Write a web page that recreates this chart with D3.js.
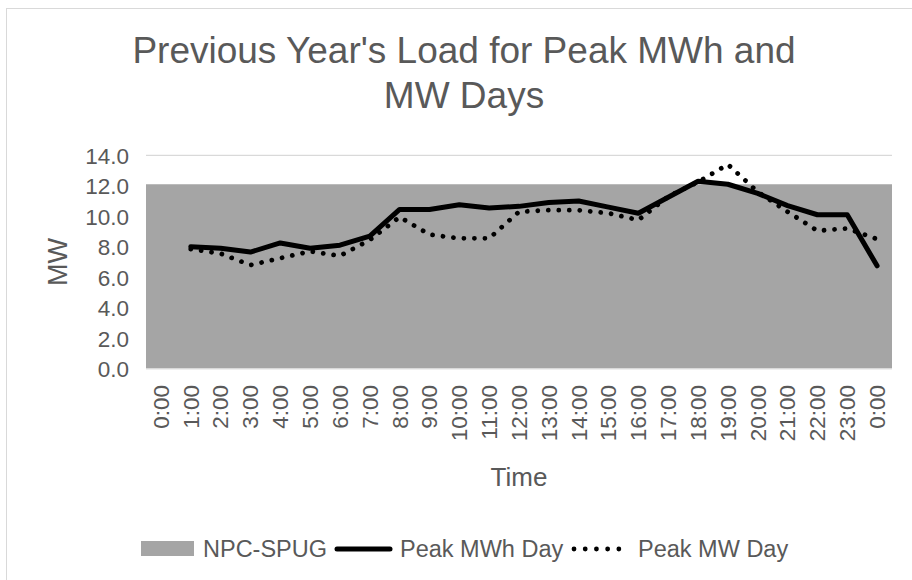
<!DOCTYPE html>
<html><head><meta charset="utf-8">
<script src="https://cdn.jsdelivr.net/npm/d3@7"></script>
<style>
body{margin:0;background:#fff}
text{font-family:"Liberation Sans",Arial,sans-serif;fill:#595959}
</style>
</head><body>
<svg id="c" width="912" height="580"></svg>
<script>
const categories = ["0:00","1:00","2:00","3:00","4:00","5:00","6:00","7:00","8:00","9:00","10:00","11:00","12:00","13:00","14:00","15:00","16:00","17:00","18:00","19:00","20:00","21:00","22:00","23:00","0:00"];
const npcSpug = [12.1,12.1,12.1,12.1,12.1,12.1,12.1,12.1,12.1,12.1,12.1,12.1,12.1,12.1,12.1,12.1,12.1,12.1,12.1,12.1,12.1,12.1,12.1,12.1,12.1];
const peakMWhDay = [null,8.0,7.9,7.65,8.25,7.9,8.1,8.7,10.45,10.45,10.75,10.55,10.65,10.9,11.0,10.6,10.2,11.25,12.3,12.1,11.5,10.7,10.1,10.1,6.75];
const peakMWDay = [null,7.85,7.55,6.8,7.25,7.7,7.4,8.45,9.95,8.8,8.55,8.55,10.3,10.4,10.4,10.2,9.75,11.3,12.25,13.4,11.6,10.3,9.05,9.2,8.5];
const yTicks = [0,2,4,6,8,10,12,14];
const seriesNames = ["NPC-SPUG","Peak MWh Day","Peak MW Day"];
const titleLines = ["Previous Year's Load for Peak MWh and","MW Days"];

const svg = d3.select("#c");
const W = 912, H = 580;
const m = {left:146, right:892, top:155.3, bottom:368.7};

// chart border
svg.append("rect").attr("x",6.5).attr("y",8.5).attr("width",W).attr("height",H)
  .attr("fill","none").attr("stroke","#d9d9d9").attr("stroke-width",1);

const idx = categories.map((d,i)=>i);
const x = d3.scaleBand().domain(idx).range([m.left,m.right]).padding(0);
const xa = d3.scalePoint().domain(idx).range([m.left,m.right]);
const y = d3.scaleLinear().domain([0,14]).range([m.bottom,m.top]);
const cx = i => x(i) + x.bandwidth()/2;

// gridlines
svg.append("g").selectAll("line").data(yTicks).join("line")
  .attr("x1",m.left).attr("x2",m.right)
  .attr("y1",d=>y(d)).attr("y2",d=>y(d))
  .attr("stroke","#d9d9d9").attr("stroke-width",1.3);

// area
svg.append("path").datum(npcSpug)
  .attr("fill","#a5a5a5")
  .attr("d", d3.area().x((d,i)=>xa(i)).y0(y(0)).y1(d=>y(d)));

// axis line at 0
svg.append("line").attr("x1",m.left).attr("x2",m.right).attr("y1",y(0)).attr("y2",y(0))
  .attr("stroke","#d9d9d9").attr("stroke-width",1.3);

// lines
const line = d3.line().defined(d=>d!=null).x((d,i)=>cx(i)).y(d=>y(d));
svg.append("path").datum(peakMWhDay).attr("fill","none").attr("stroke","#000")
  .attr("stroke-width",5).attr("stroke-linejoin","round").attr("stroke-linecap","round")
  .attr("d",line);
svg.append("path").datum(peakMWDay).attr("fill","none").attr("stroke","#000")
  .attr("stroke-width",4.8).attr("stroke-linecap","round").attr("stroke-dasharray","0.01 10.5")
  .attr("d",line);

// y axis labels
const yAxis = d3.axisLeft(y).tickValues(yTicks).tickFormat(d3.format(".1f")).tickSize(0).tickPadding(0);
const gy = svg.append("g").attr("transform",`translate(${129},0)`).call(yAxis);
gy.select(".domain").remove();
gy.selectAll("text").style("font-size","22.5px").attr("fill","#595959").attr("dy","0.35em")
  .style("font-family","'Liberation Sans',Arial,sans-serif");

// x axis labels
const xAxis = d3.axisBottom(x).tickFormat(i=>categories[i]).tickSize(0).tickPadding(0);
const gx = svg.append("g").attr("transform",`translate(0,${385})`).call(xAxis);
gx.select(".domain").remove();
gx.selectAll("text").style("font-size","22.5px").attr("fill","#595959")
  .style("font-family","'Liberation Sans',Arial,sans-serif")
  .attr("text-anchor","end").attr("transform","rotate(-90)")
  .attr("x",0).attr("y",0).attr("dy","0.35em");

// axis titles
svg.append("text").attr("x",(m.left+m.right)/2).attr("y",486).attr("text-anchor","middle")
  .style("font-size","26px").text("Time");
svg.append("text").attr("transform",`translate(67,262) rotate(-90)`).attr("text-anchor","middle")
  .style("font-size","27px").text("MW");

// title
svg.append("g").selectAll("text").data(titleLines).join("text")
  .attr("x",464).attr("y",(d,i)=>63+i*45).attr("text-anchor","middle")
  .style("font-size","37px").text(d=>d);

// legend
const lg = svg.append("g");
lg.append("rect").attr("x",141).attr("y",541).attr("width",53).attr("height",15).attr("fill","#a5a5a5");
lg.append("text").attr("x",203).attr("y",557).style("font-size","23.5px").text(seriesNames[0]);
lg.append("line").attr("x1",337).attr("x2",390).attr("y1",549).attr("y2",549)
  .attr("stroke","#000").attr("stroke-width",5).attr("stroke-linecap","round");
lg.append("text").attr("x",400).attr("y",557).style("font-size","23.5px").text(seriesNames[1]);
lg.append("line").attr("x1",574).attr("x2",619).attr("y1",549).attr("y2",549)
  .attr("stroke","#000").attr("stroke-width",4.8).attr("stroke-linecap","round").attr("stroke-dasharray","0.01 11.2");
lg.append("text").attr("x",638).attr("y",557).style("font-size","23.5px").text(seriesNames[2]);
</script>
</body></html>
